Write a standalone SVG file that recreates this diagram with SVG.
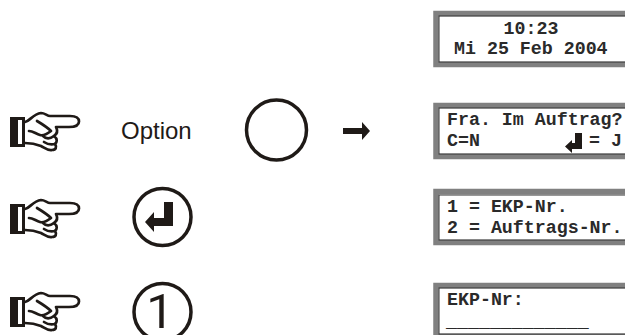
<svg xmlns="http://www.w3.org/2000/svg" width="625" height="335" viewBox="0 0 625 335">
<style>
.lcd{fill:#fff;stroke:#808080;stroke-width:5.500}
.lcdline{fill:none;stroke:#333;stroke-width:1}
.t{font-family:"Liberation Mono",monospace;font-weight:700;font-size:18.300px;fill:#2a2a2a}
.ring{fill:none;stroke:#1f1a17;stroke-width:3.500}
.ink{fill:#1f1a17}
.hand{fill:none;stroke:#1f1a17;stroke-width:2.700;stroke-linejoin:round;stroke-linecap:round}
</style>
<defs>
<g id="hand">
<path class="ink" d="M10 27H25V57H10Z"/>
<path d="M18 30H22V54H18Z" fill="#fff"/>
<path class="hand" d="M25 32C30 31 33 24 41 23C45 23 47 26 50 26H70C77 26 79 29 79 31.500C79 35 75 37 69 37H56C58 41 57 44 54 46C58 49 57 52 55 54C57 57 56 60 52 60C48 61 45 58 41 56C36 54 31 53 25 53"/>
<path class="hand" d="M37 31C42 34 47 37 51 41C47 44 43 46 40 45C36 44 33 41 29 41"/>
<path class="hand" d="M43 46C46 49 50 49 54 46M44 52C47 54 51 55 55 54"/>
</g>
</defs>
<g id="connectors">
<path class="ink" d="M343 128H362V122L370 131L362 140V134H343Z"/>
</g>
<g id="lcd1">
<rect class="lcd" x="436" y="13.500" width="192" height="51"/>
<rect class="lcdline" x="439" y="16" width="188" height="46"/>
<text class="t" x="531" y="34" text-anchor="middle">10:23</text>
<text class="t" x="454" y="54">Mi 25 Feb 2004</text>
</g>
<g id="lcd2">
<rect class="lcd" x="436" y="105.500" width="192" height="51"/>
<rect class="lcdline" x="439" y="108" width="188" height="46"/>
<text class="t" x="447" y="125">Fra. Im Auftrag?</text>
<text class="t" x="447" y="146">C=N</text>
<path class="ink" d="M575 133H582V149H572V153L565 146.500L572 140V143H575Z"/>
<text class="t" x="589" y="146">= J</text>
</g>
<g id="lcd3">
<rect class="lcd" x="436" y="191.500" width="192" height="51"/>
<rect class="lcdline" x="439" y="195" width="188" height="45"/>
<text class="t" x="447" y="212">1 = EKP-Nr.</text>
<text class="t" x="447" y="233">2 = Auftrags-Nr.</text>
</g>
<g id="lcd4">
<rect class="lcd" x="436" y="285.500" width="192" height="51"/>
<rect class="lcdline" x="439" y="288" width="188" height="46"/>
<text class="t" x="447" y="305">EKP-Nr:</text>
<text class="t" x="446" y="327">_____________</text>
</g>
<g id="step1">
<use href="#hand" x="0" y="90"/>
<text x="121" y="139" font-family="Liberation Sans,Arial,sans-serif" font-size="24" fill="#1f1a17">Option</text>
<circle class="ring" cx="276.500" cy="130" r="30"/>
</g>
<g id="step2">
<use href="#hand" x="0" y="177"/>
<circle class="ring" cx="162.500" cy="217" r="28.500"/>
<path class="ink" d="M164 202H173V226H154V232L145 222L154 212V218H164Z"/>
</g>
<g id="step3">
<use href="#hand" x="0" y="270"/>
<circle class="ring" cx="162.500" cy="312" r="28.500"/>
<text x="160" y="328" text-anchor="middle" font-family="Roboto,sans-serif" font-size="49" fill="#1f1a17">1</text>
</g>
</svg>
